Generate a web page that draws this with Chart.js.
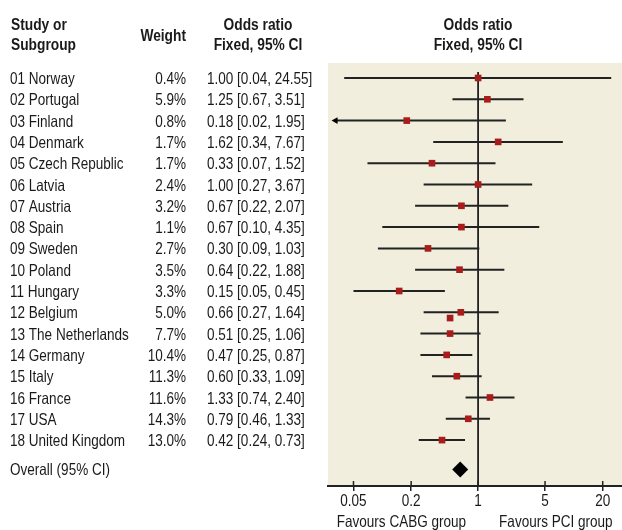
<!DOCTYPE html>
<html><head><meta charset="utf-8">
<script src="https://cdn.jsdelivr.net/npm/chart.js@4"></script>
<style>html,body{margin:0;padding:0;background:#fff;overflow:hidden}#wrap{width:622px;height:530px;position:relative}</style>
</head><body><div id="wrap"><canvas id="c"></canvas></div>
<script>
const studies = ['01 Norway','02 Portugal','03 Finland','04 Denmark','05 Czech Republic','06 Latvia','07 Austria','08 Spain','09 Sweden','10 Poland','11 Hungary','12 Belgium','13 The Netherlands','14 Germany','15 Italy','16 France','17 USA','18 United Kingdom'];
const weights = [0.4,5.9,0.8,1.7,1.7,2.4,3.2,1.1,2.7,3.5,3.3,5.0,7.7,10.4,11.3,11.6,14.3,13.0];
const ciText = ['1.00 [0.04, 24.55]','1.25 [0.67, 3.51]','0.18 [0.02, 1.95]','1.62 [0.34, 7.67]','0.33 [0.07, 1.52]','1.00 [0.27, 3.67]','0.67 [0.22, 2.07]','0.67 [0.10, 4.35]','0.30 [0.09, 1.03]','0.64 [0.22, 1.88]','0.15 [0.05, 0.45]','0.66 [0.27, 1.64]','0.51 [0.25, 1.06]','0.47 [0.25, 0.87]','0.60 [0.33, 1.09]','1.33 [0.74, 2.40]','0.79 [0.46, 1.33]','0.42 [0.24, 0.73]'];
const oddsRatio = [1.00,1.25,0.18,1.62,0.33,1.00,0.67,0.67,0.30,0.64,0.15,0.66,0.51,0.47,0.60,1.33,0.79,0.42];
const ciLow  = [0.04,0.54,0.02,0.34,0.07,0.27,0.22,0.10,0.09,0.22,0.05,0.27,0.25,0.25,0.33,0.74,0.46,0.24];
const ciHigh = [24.55,2.98,1.95,7.67,1.52,3.67,2.07,4.35,1.03,1.88,0.45,1.64,1.06,0.87,1.09,2.40,1.33,0.73];
const overallLabel = 'Overall (95% CI)';
const overallOR = [0.65];
const strayOR = [0.51];
const strayRow = [11.27];
const xTicks = [0.05, 0.2, 1, 5, 20];
const xTickLabels = ['0.05','0.2','1','5','20'];
const headerStudy = ['Study or','Subgroup'];
const headerWeight = 'Weight';
const headerOR = ['Odds ratio','Fixed, 95% CI'];
const favoursLeft = 'Favours CABG group';
const favoursRight = 'Favours PCI group';

const FONT = "'Liberation Sans', Arial, sans-serif";
const REG = '16.5px ' + FONT;
const BOLD = 'bold 16px ' + FONT;
const SX = 0.82, SXB = 0.86;
const TXT = '#1a1a1a';
const LINE = '#222222';
const RED = '#a81c1c';
const BEIGE = '#f1eedd';
const xMin = 0.0271, xMax = 31.8;
const yMin = -0.704, yMax = 19.155;
const overallRow = 18.375;

const datasets = [];
datasets.push({type:'scatter', data: oddsRatio.map((v,i)=>({x:v,y:i})), pointStyle:'rect', pointRadius:4.7, backgroundColor:RED, borderWidth:0, order:0});
datasets.push({type:'scatter', data: strayOR.map((v,i)=>({x:v,y:strayRow[i]})), pointStyle:'rect', pointRadius:4.7, backgroundColor:RED, borderWidth:0, order:0});
datasets.push({type:'scatter', data: overallOR.map(v=>({x:v,y:overallRow})), pointStyle:'rectRot', pointRadius:8, backgroundColor:'#000', borderWidth:0, order:0});
const clipX = xMin*1.2;
const arrows = [];
ciLow.forEach((v,i)=>{ if (v < clipX) arrows.push({x:clipX, y:i}); });
datasets.push({type:'scatter', data: arrows, pointStyle:'triangle', rotation:-90, pointRadius:4, backgroundColor:'#000', borderWidth:0, order:0});
ciLow.forEach((lo,i)=>{
  datasets.push({type:'scatter', showLine:true, data:[{x:Math.max(lo,clipX),y:i},{x:ciHigh[i],y:i}], borderColor:LINE, borderWidth:2, pointRadius:0, order:2});
});
datasets.push({type:'scatter', showLine:true, data:[{x:1,y:-0.28},{x:1,y:yMax}], borderColor:LINE, borderWidth:1.8, pointRadius:0, order:3});

function ctext(ctx, t, x, y, align, font, sx){
  ctx.save(); ctx.font = font; ctx.textAlign = align; ctx.translate(x, y); ctx.scale(sx, 1); ctx.fillText(t, 0, 0); ctx.restore();
}

const bgPlugin = {
  id:'bg',
  beforeDraw(chart){
    const {ctx, chartArea:a} = chart;
    ctx.save(); ctx.fillStyle = BEIGE; ctx.fillRect(a.left, a.top, a.right-a.left, a.bottom-a.top); ctx.restore();
  }
};
const textPlugin = {
  id:'tbl',
  afterDraw(chart){
    const {ctx, chartArea:a} = chart;
    const ys = chart.scales.y, xs = chart.scales.x;
    ctx.save();
    ctx.fillStyle = TXT;
    ctx.textBaseline = 'alphabetic';
    ctext(ctx, headerStudy[0], 11, 30, 'left', BOLD, SXB);
    ctext(ctx, headerStudy[1], 11, 50, 'left', BOLD, SXB);
    ctext(ctx, headerWeight, 186, 41, 'right', BOLD, SXB);
    ctext(ctx, headerOR[0], 258, 30, 'center', BOLD, SXB);
    ctext(ctx, headerOR[1], 258, 50, 'center', BOLD, SXB);
    const cx = (a.left + a.right)/2 + 3;
    ctext(ctx, headerOR[0], cx, 30, 'center', BOLD, SXB);
    ctext(ctx, headerOR[1], cx, 50, 'center', BOLD, SXB);
    ctx.textBaseline = 'middle';
    studies.forEach((s,i)=>{
      const y = ys.getPixelForValue(i) + 1.5;
      ctext(ctx, s, 10, y, 'left', REG, SX);
      ctext(ctx, weights[i].toFixed(1)+'%', 186, y, 'right', REG, SX);
      ctext(ctx, ciText[i], 207, y, 'left', REG, SX);
    });
    ctext(ctx, overallLabel, 10, ys.getPixelForValue(overallRow) + 1.5, 'left', REG, SX);
    xTicks.forEach((v,i)=>{
      ctext(ctx, xTickLabels[i], xs.getPixelForValue(v), a.bottom + 15, 'center', REG, SX);
    });
    ctx.strokeStyle = LINE; ctx.lineWidth = 1.5;
    xTicks.forEach(v=>{
      const x = xs.getPixelForValue(v);
      ctx.beginPath(); ctx.moveTo(x, a.bottom-5); ctx.lineTo(x, a.bottom); ctx.stroke();
    });
    const x1 = xs.getPixelForValue(1);
    ctext(ctx, favoursLeft, x1-12, 522, 'right', REG, SX);
    ctext(ctx, favoursRight, x1+21, 522, 'left', REG, SX);
    ctx.restore();
  }
};

new Chart(document.getElementById('c'), {
  type:'scatter',
  data:{datasets},
  options:{
    responsive:true, maintainAspectRatio:false, animation:false,
    layout:{autoPadding:false, padding:{left:328, top:63, right:0, bottom:0}},
    plugins:{legend:{display:false}, tooltip:{enabled:false}},
    events:[],
    scales:{
      x:{
        type:'logarithmic', min:xMin, max:xMax,
        afterBuildTicks:(s)=>{ s.ticks = xTicks.map(v=>({value:v})); },
        afterFit:(s)=>{ s.height = 44; s.paddingLeft = 0; s.paddingRight = 0; },
        ticks:{display:false},
        grid:{display:true, drawOnChartArea:false, drawTicks:true, tickLength:5, color:LINE, lineWidth:1.5},
        border:{display:true, color:LINE, width:2}
      },
      y:{type:'linear', reverse:true, min:yMin, max:yMax, display:false}
    }
  },
  plugins:[bgPlugin, textPlugin]
});
</script></body></html>
